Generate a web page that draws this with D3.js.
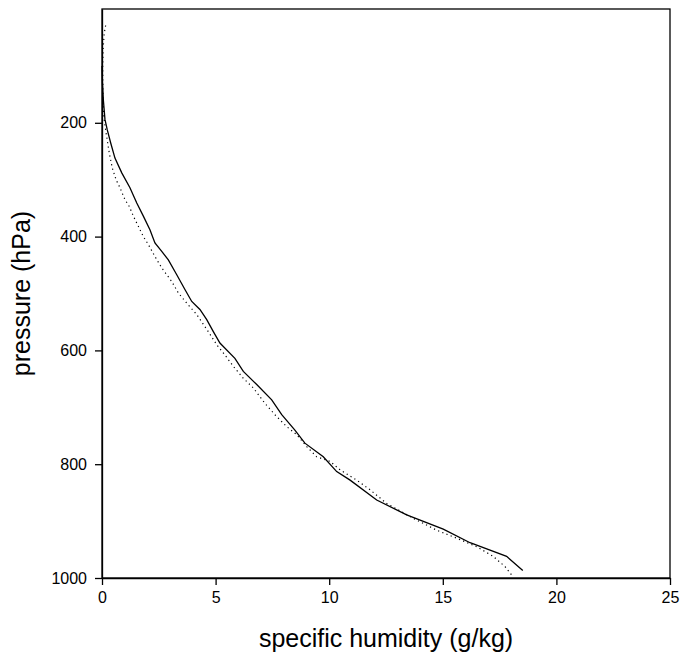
<!DOCTYPE html>
<html lang="en">
<head>
    <meta charset="UTF-8">
    <script src="https://cdn.jsdelivr.net/npm/d3@7"></script>
    <title>Specific humidity profile</title>
    <style>
        body { margin: 0; background: #fff; }
        svg text { font-family: "Liberation Sans", Arial, sans-serif; }
    </style>
</head>
<body>
    <div id="chart"></div>
    <script>
        // data (specific humidity g/kg vs pressure hPa)
        var solidQ = [0, 0.02, 0.06, 0.13, 0.23, 0.38, 0.57, 0.87, 1.23, 1.53, 1.82, 2.11, 2.33, 2.63, 2.92, 3.29, 3.65, 3.95, 4.31, 4.61, 4.9, 5.19, 5.85, 6.22, 6.81, 7.47, 7.91, 8.49, 8.93, 9.74, 10.33, 10.92, 12.09, 13.41, 15.02, 16.2, 17.81, 18.52];
        var solidP = [100, 130, 160, 194, 212, 235, 262, 288, 314, 341, 364, 388, 411, 426, 441, 467, 493, 514, 528, 546, 567, 587, 614, 637, 660, 687, 713, 740, 763, 787, 813, 828, 863, 889, 914, 938, 962, 987];

        var dotQ = [0.16, 0.1, 0.05, 0.03, 0.04, 0.08, 0.18, 0.32, 0.45, 0.62, 0.79, 1.01, 1.2, 1.38, 1.6, 1.82, 2.04, 2.33, 2.63, 2.85, 3.07, 3.36, 3.73, 4.17, 4.68, 5.05, 5.41, 5.78, 6.22, 6.66, 7.17, 7.61, 8.13, 8.57, 9.01, 9.45, 10.04, 10.48, 11.21, 11.8, 12.53, 13.7, 14.73, 15.61, 16.49, 17.22, 17.74, 18.1];
        var dotP = [29, 42, 70, 100, 150, 190, 218, 253, 279, 300, 314, 335, 347, 364, 382, 400, 414, 435, 455, 467, 479, 499, 517, 537, 567, 590, 608, 628, 649, 666, 693, 713, 734, 748, 769, 787, 795, 810, 828, 845, 869, 895, 916, 930, 945, 962, 980, 998];

        var xTicks = [0, 5, 10, 15, 20, 25];
        var yTicks = [200, 400, 600, 800, 1000];

        var margin = { top: 9, right: 12, bottom: 80, left: 102 },
            width = 682 - margin.left - margin.right,
            height = 658 - margin.top - margin.bottom;

        var svg = d3.select("#chart").append("svg")
            .attr("width", 682)
            .attr("height", 658);

        var g = svg.append("g")
            .attr("transform", "translate(" + margin.left + "," + margin.top + ")");

        var xScale = d3.scaleLinear().domain([0, 25]).range([0, width]);
        var yScale = d3.scaleLinear().domain([0, 1000]).range([0, height]);

        // frame
        g.append("rect")
            .attr("x", 0).attr("y", 0)
            .attr("width", width).attr("height", height)
            .attr("fill", "none")
            .attr("stroke", "#000")
            .attr("stroke-width", 1.3);

        var xAxis = g.append("g")
            .attr("transform", "translate(0," + height + ")")
            .call(d3.axisBottom(xScale).tickValues(xTicks).tickFormat(d3.format("d"))
                .tickSize(7).tickSizeOuter(0).tickPadding(7));

        var yAxis = g.append("g")
            .call(d3.axisLeft(yScale).tickValues(yTicks).tickFormat(d3.format("d"))
                .tickSize(7).tickSizeOuter(0).tickPadding(8));

        [xAxis, yAxis].forEach(function (a) {
            a.select(".domain").attr("stroke-width", 1.3);
            a.selectAll(".tick line").attr("stroke-width", 1.3);
            a.selectAll("text")
                .attr("font-size", "16px")
                .attr("font-family", "Liberation Sans, Arial, sans-serif")
                .attr("fill", "#000");
        });

        var line = d3.line()
            .x(function (d) { return xScale(d[0]); })
            .y(function (d) { return yScale(d[1]); });

        var solid = solidQ.map(function (q, i) { return [q, solidP[i]]; });
        var dotted = dotQ.map(function (q, i) { return [q, dotP[i]]; });

        g.append("path")
            .datum(dotted)
            .attr("d", line)
            .attr("fill", "none")
            .attr("stroke", "#000")
            .attr("stroke-width", 1.2)
            .attr("stroke-dasharray", "1.2,3.3");

        g.append("path")
            .datum(solid)
            .attr("d", line)
            .attr("fill", "none")
            .attr("stroke", "#000")
            .attr("stroke-width", 1.3);

        // axis titles
        svg.append("text")
            .attr("x", margin.left + width / 2)
            .attr("y", 647)
            .attr("text-anchor", "middle")
            .attr("font-size", "25px")
            .text("specific humidity (g/kg)");

        svg.append("text")
            .attr("transform", "translate(30," + (margin.top + height / 2) + ") rotate(-90)")
            .attr("text-anchor", "middle")
            .attr("font-size", "25px")
            .text("pressure (hPa)");
    </script>
</body>
</html>
